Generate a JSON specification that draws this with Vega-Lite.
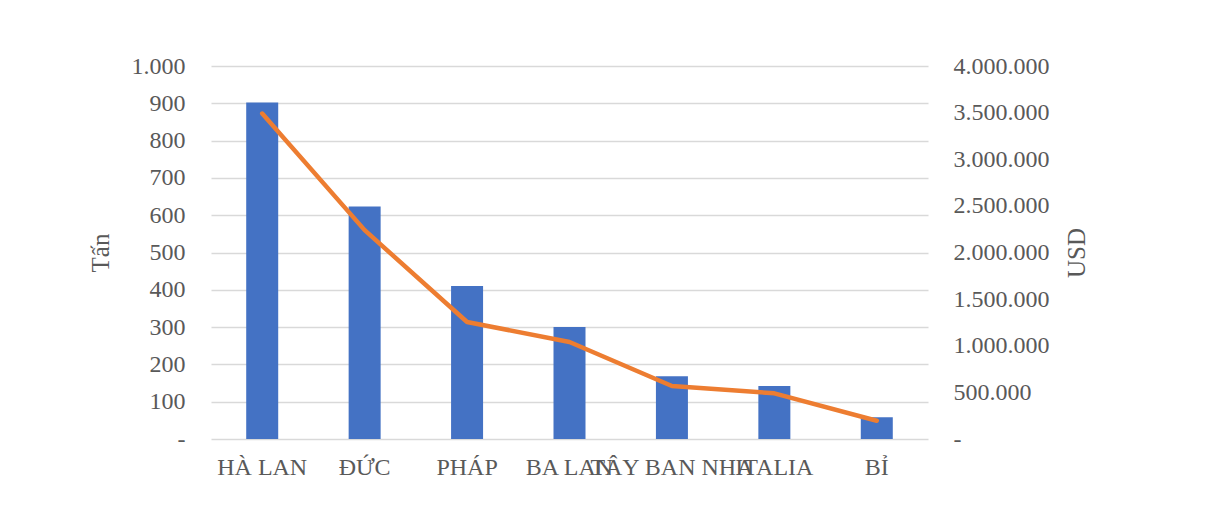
{
  "$schema": "https://vega.github.io/schema/vega-lite/v6.json",
  "width": 717,
  "height": 373,
  "autosize": {"type": "none"},
  "padding": {"left": 211, "top": 66, "right": 278, "bottom": 73},
  "background": "white",
  "config": {
    "locale": {"number": {"decimal": ",", "thousands": ".", "grouping": [3], "currency": ["", ""]}},
    "view": {"stroke": null},
    "font": "Liberation Serif",
    "axis": {
      "labelFont": "Liberation Serif",
      "titleFont": "Liberation Serif",
      "labelColor": "#595959",
      "titleColor": "#595959",
      "labelFontSize": 24,
      "titleFontSize": 25,
      "titleFontWeight": "normal",
      "domain": false,
      "ticks": false
    }
  },
  "data": {
    "values": [
      {"country": "HÀ LAN", "tan": 902, "usd": 3490000},
      {"country": "ĐỨC", "tan": 623, "usd": 2240000},
      {"country": "PHÁP", "tan": 410, "usd": 1255000},
      {"country": "BA LAN", "tan": 300, "usd": 1040000},
      {"country": "TÂY BAN NHA", "tan": 168, "usd": 568000},
      {"country": "ITALIA", "tan": 142, "usd": 490000},
      {"country": "BỈ", "tan": 58, "usd": 196000}
    ]
  },
  "encoding": {
    "x": {
      "field": "country",
      "type": "nominal",
      "sort": null,
      "scale": {"paddingInner": 0, "paddingOuter": 0},
      "axis": {
        "title": null,
        "labelAngle": 0,
        "labelOverlap": false,
        "labelPadding": 16,
        "labelBaseline": "top"
      }
    }
  },
  "layer": [
    {
      "mark": {"type": "bar", "color": "#4472C4", "width": 32},
      "encoding": {
        "y": {
          "field": "tan",
          "type": "quantitative",
          "scale": {"domain": [0, 1000], "nice": false},
          "axis": {
            "title": "Tấn",
            "values": [0, 100, 200, 300, 400, 500, 600, 700, 800, 900, 1000],
            "format": ",d",
            "labelExpr": "datum.value == 0 ? '-' : datum.label",
            "labelPadding": 26,
            "titlePadding": 18,
            "grid": true,
            "gridColor": "#d9d9d9",
            "gridWidth": 1.5
          }
        }
      }
    },
    {
      "mark": {"type": "line", "color": "#ED7D31", "strokeWidth": 4.5, "strokeCap": "round", "strokeJoin": "round"},
      "encoding": {
        "y": {
          "field": "usd",
          "type": "quantitative",
          "scale": {"domain": [0, 4000000], "nice": false},
          "axis": {
            "orient": "right",
            "title": "USD",
            "titleAngle": -90,
            "titleBaseline": "top",
            "values": [0, 500000, 1000000, 1500000, 2000000, 2500000, 3000000, 3500000, 4000000],
            "format": ",d",
            "labelExpr": "datum.value == 0 ? '-' : datum.label",
            "labelPadding": 25,
            "titlePadding": 15,
            "grid": false
          }
        }
      }
    }
  ],
  "resolve": {"scale": {"y": "independent"}}
}
